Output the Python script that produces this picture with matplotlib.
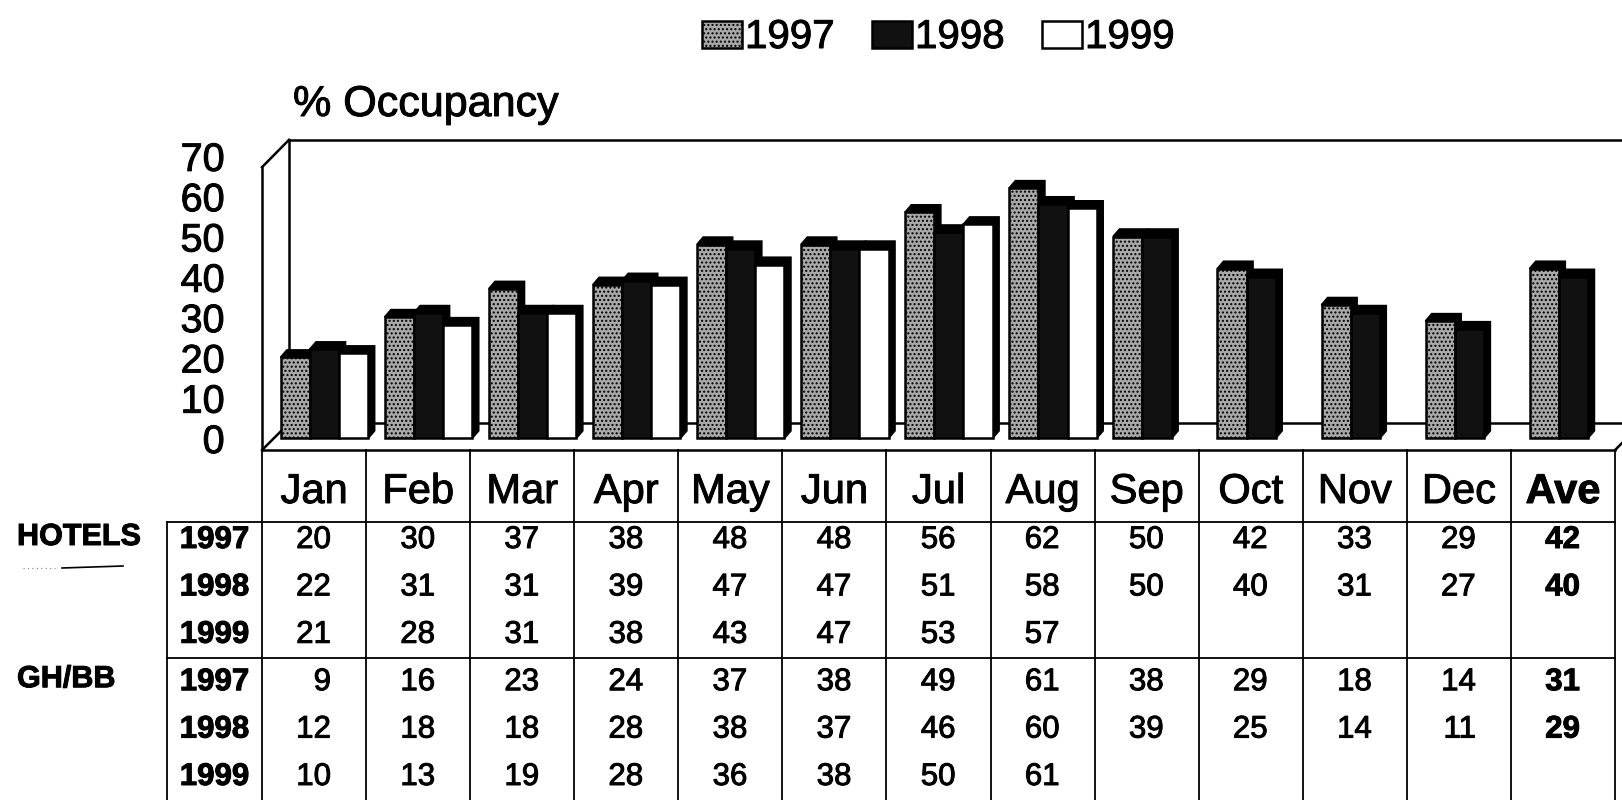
import numpy as np
import matplotlib
matplotlib.use("Agg")
import matplotlib.pyplot as plt
import matplotlib.patheffects as pe
from matplotlib.patches import Rectangle, Polygon

plt.rcParams["font.family"] = ["Liberation Sans", "DejaVu Sans"]

# --- data ---
months = ["Jan", "Feb", "Mar", "Apr", "May", "Jun", "Jul", "Aug",
          "Sep", "Oct", "Nov", "Dec", "Ave"]
years = ["1997", "1998", "1999"]
hotels_1997 = [20, 30, 37, 38, 48, 48, 56, 62, 50, 42, 33, 29, 42]
hotels_1998 = [22, 31, 31, 39, 47, 47, 51, 58, 50, 40, 31, 27, 40]
hotels_1999 = [21, 28, 31, 38, 43, 47, 53, 57, None, None, None, None, None]
ghbb_1997 = [9, 16, 23, 24, 37, 38, 49, 61, 38, 29, 18, 14, 31]
ghbb_1998 = [12, 18, 18, 28, 38, 37, 46, 60, 39, 25, 14, 11, 29]
ghbb_1999 = [10, 13, 19, 28, 36, 38, 50, 61, None, None, None, None, None]
y_ticks = [0, 10, 20, 30, 40, 50, 60, 70]

# --- styles ---
bar_colors = ["#a9a9a9", "#111111", "white"]
bar_hatches = ["....", None, None]
ink = [pe.withStroke(linewidth=0.7, foreground="black")]  # scanned, slightly heavy print

# --- layout (pixels of a 1622x800 canvas) ---
W, H = 1622, 800
X0, X1 = 262, 1615          # table / front plane edges
COL_W = (X1 - X0) / len(months)
Y_ZERO = 438                # bar plane zero line
PX_UNIT = 4.03
YMIN, YMAX = -3, 74
BW = 0.28                   # bar width (column units)
DX, DY = 0.06, 1.8          # bar depth
BOX_DX = 0.26               # box depth, column units
BOX_FRONT_TOP = 67.2
BOX_BACK_BOT = 3.7


def col_center(j):
    return X0 + COL_W * (j + 0.5)


fig = plt.figure(figsize=(W / 100, H / 100), dpi=100)

# overlay in pixel coordinates for the table, titles, legend
tab = fig.add_axes([0, 0, 1, 1])
tab.set_xlim(0, W)
tab.set_ylim(H, 0)
tab.axis("off")

# bar axes
y_bot = Y_ZERO - YMIN * PX_UNIT
y_top = Y_ZERO - YMAX * PX_UNIT
ax = fig.add_axes([X0 / W, (H - y_bot) / H, (X1 - X0) / W, (y_bot - y_top) / H])
ax.set_xlim(-0.5, len(months) - 0.5)
ax.set_ylim(YMIN, YMAX)
ax.patch.set_visible(False)
for s in ax.spines.values():
    s.set_visible(False)
ax.set_xticks([])
ax.set_yticks(y_ticks)
ax.set_yticklabels([str(t) for t in y_ticks])
ax.tick_params(axis="y", length=0, pad=27, labelsize=28.5)
for lbl in ax.get_yticklabels():
    lbl.set_path_effects(ink)

# 3D box frame
xl, xr = -0.5, len(months) - 0.5
frame = [
    ([xl, xl], [YMIN, BOX_FRONT_TOP]),
    ([xl, xl + BOX_DX], [BOX_FRONT_TOP, YMAX]),
    ([xl + BOX_DX, xr + BOX_DX], [YMAX, YMAX]),
    ([xl + BOX_DX, xl + BOX_DX], [YMAX, BOX_BACK_BOT]),
    ([xl, xl + BOX_DX], [YMIN, BOX_BACK_BOT]),
    ([xl + BOX_DX, xr + BOX_DX], [BOX_BACK_BOT, BOX_BACK_BOT]),
    ([xl, xr], [YMIN, YMIN]),
    ([xr, xr + BOX_DX], [YMIN, BOX_BACK_BOT]),
]
for fx, fy in frame:
    ax.plot(fx, fy, color="black", lw=1.8, clip_on=False, zorder=0.5)

# bars with a little depth
hotel_series = [hotels_1997, hotels_1998, hotels_1999]
for k, vals in enumerate(hotel_series):
    v = np.array([np.nan if a is None else a for a in vals], dtype=float)
    x = np.arange(len(months)) + 0.10 + (k - 1) * BW
    m = ~np.isnan(v)
    for xi, vi in zip(x[m], v[m]):
        left, right = xi - BW / 2, xi + BW / 2
        ax.add_patch(Polygon([(left, vi), (left + DX, vi + DY), (right + DX, vi + DY),
                              (right + DX, DY), (right, 0), (right, vi)],
                             closed=True, facecolor="black", edgecolor="black",
                             lw=1.5, zorder=1 + 2 * k))
    ax.bar(x[m], v[m], width=BW, color=bar_colors[k], edgecolor="black",
           lw=1.8, hatch=bar_hatches[k], zorder=2 + 2 * k)

# title and legend
tab.text(293, 116, "% Occupancy", fontsize=31, ha="left", va="baseline",
         path_effects=ink)
for k, yr in enumerate(years):
    lx = 702 + k * 170
    tab.add_patch(Rectangle((lx, 21), 40, 27, facecolor=bar_colors[k],
                            edgecolor="black", lw=1.8, hatch=bar_hatches[k]))
    tab.text(lx + 43, 48, yr, fontsize=29, ha="left", va="baseline",
             path_effects=ink)

# table
TOP, HEAD_BOT, GROUP_SPLIT = 450, 522, 658
ROW0, PITCH = 548, 47.4
LBL_L = 167
lw_t = 1.3
for j in range(len(months) + 1):
    xx = X0 + j * COL_W
    tab.plot([xx, xx], [TOP, H], color="black", lw=lw_t)
tab.plot([LBL_L, LBL_L], [HEAD_BOT, H], color="black", lw=lw_t)
tab.plot([LBL_L, X1], [HEAD_BOT, HEAD_BOT], color="black", lw=lw_t)
tab.plot([LBL_L, X1], [GROUP_SPLIT, GROUP_SPLIT], color="black", lw=lw_t)

for j, mth in enumerate(months):
    tab.text(col_center(j), 503, mth, fontsize=30, ha="center", va="baseline",
             fontweight="bold" if mth == "Ave" else "normal", path_effects=ink)

groups = [("HOTELS", hotel_series), ("GH/BB", [ghbb_1997, ghbb_1998, ghbb_1999])]
for gi, (gname, series) in enumerate(groups):
    gy = ROW0 + gi * 3 * PITCH
    tab.text(17, gy - 3, gname, fontsize=22, fontweight="bold", ha="left",
             va="baseline", path_effects=ink)
    for r, (yr, vals) in enumerate(zip(years, series)):
        ry = gy + r * PITCH
        tab.text((LBL_L + X0) / 2, ry, yr, fontsize=22.5, fontweight="bold",
                 ha="center", va="baseline", path_effects=ink)
        for j, val in enumerate(vals):
            if val is None:
                continue
            tab.text(col_center(j) + 17, ry, str(val), fontsize=22.5, ha="right",
                     va="baseline", path_effects=ink,
                     fontweight="bold" if months[j] == "Ave" else "normal")

# pen mark under HOTELS
tab.plot([62, 123], [568, 566], color="black", lw=1.2)
tab.plot([23, 55], [568, 568], color="gray", lw=0.8, ls=(0, (1, 3)))

fig.savefig("out.png", dpi=100)
